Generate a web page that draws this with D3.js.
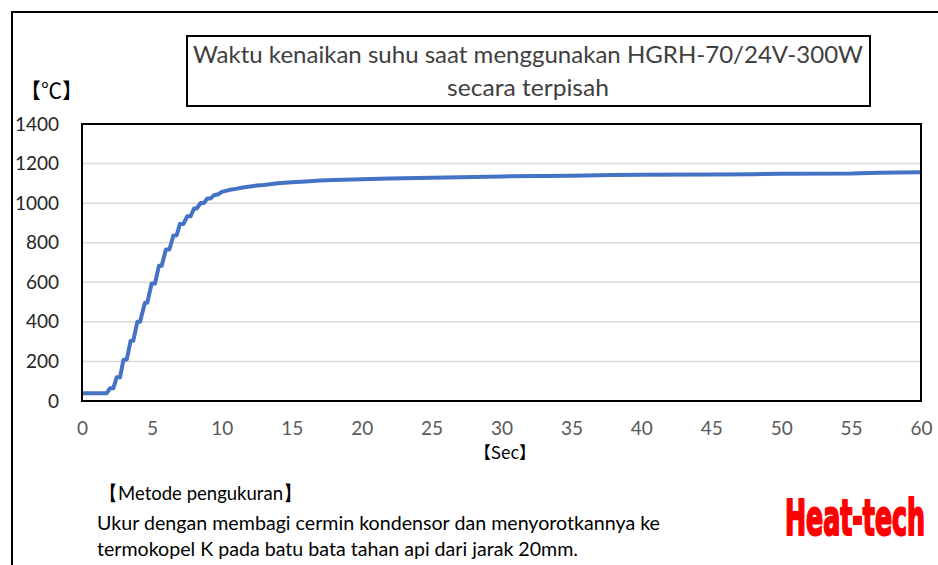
<!DOCTYPE html>
<html>
<head>
<meta charset="utf-8">
<script src="https://cdn.jsdelivr.net/npm/d3@7"></script>
<style>
  body { margin: 0; background: #fff; }
  svg { display: block; }
</style>
</head>
<body>
<svg id="chart" width="938" height="565"></svg>
<script>
// data: time [sec] and temperature [°C]
const timeSec = [0, 1.77, 2.0, 2.24, 2.48, 2.72, 2.96, 3.2, 3.48, 3.67, 3.96, 4.15, 4.5, 4.67, 4.98, 5.22,
  5.5, 5.7, 6.0, 6.25, 6.53, 6.77, 7.0, 7.25, 7.53, 7.77, 8.01, 8.2, 8.49, 8.73, 8.96, 9.2, 9.44, 9.75,
  10, 10.5, 11, 11.5, 12, 12.5, 13, 14, 15, 16, 17, 18, 20, 22, 25, 28, 30, 33, 35, 38, 40, 45, 48, 50, 55, 57, 60];
const tempC = [39, 39, 64, 64, 120, 120, 207, 210, 305, 305, 401, 401, 497, 497, 594, 594,
  683, 683, 766, 766, 835, 838, 894, 894, 934, 934, 973, 973, 1001, 1001, 1024, 1024, 1040, 1045,
  1057, 1066, 1072, 1079, 1084, 1089, 1092, 1100, 1106, 1110, 1114, 1117, 1121, 1124, 1128, 1132, 1135, 1137, 1139, 1142, 1143, 1145, 1146, 1149, 1150, 1154, 1156];
const xTicks = [0, 5, 10, 15, 20, 25, 30, 35, 40, 45, 50, 55, 60];
const yTicks = [0, 200, 400, 600, 800, 1000, 1200, 1400];

const titleLines = ["Waktu kenaikan suhu saat menggunakan HGRH-70/24V-300W", "secara terpisah"];
const noteLines = ["Ukur dengan membagi cermin kondensor dan menyorotkannya ke",
  "termokopel K pada batu bata tahan api dari jarak 20mm."];

const svg = d3.select("#chart");
const font = "Lato, 'Open Sans', sans-serif";
const plot = {left: 82, right: 921, top: 124, bottom: 401};

// outer frame (only top and left edges show)
svg.append("path")
  .attr("d", "M12,565 V12 H938")
  .attr("fill", "none").attr("stroke", "#000").attr("stroke-width", 2);

const x = d3.scaleLinear().domain([0, 60]).range([plot.left, plot.right]);
const y = d3.scaleLinear().domain([0, 1400]).range([plot.bottom, plot.top]);

// gridlines
svg.append("g")
  .selectAll("line")
  .data(yTicks.filter(d => d > 0 && d < 1400))
  .enter().append("line")
  .attr("x1", plot.left).attr("x2", plot.right)
  .attr("y1", d => y(d)).attr("y2", d => y(d))
  .attr("stroke", "#d9d9d9").attr("stroke-width", 1.5);

// axes (labels only)
const yAxis = svg.append("g")
  .attr("transform", "translate(" + (plot.left - 23) + ",0)")
  .call(d3.axisLeft(y).tickValues(yTicks).tickFormat(d3.format("d")).tickSize(0).tickPadding(0));
yAxis.select(".domain").remove();
yAxis.selectAll("text")
  .attr("font-family", font).attr("font-size", 19).attr("fill", "#262626");

const xAxis = svg.append("g")
  .attr("transform", "translate(0," + (plot.bottom + 20) + ")")
  .call(d3.axisBottom(x).tickValues(xTicks).tickSize(0).tickPadding(0));
xAxis.select(".domain").remove();
xAxis.selectAll("text")
  .attr("font-family", font).attr("font-size", 19).attr("fill", "#595959");

// the curve
const line = d3.line()
  .x((d, i) => x(timeSec[i]))
  .y(d => y(d));
svg.append("path")
  .datum(tempC)
  .attr("d", line)
  .attr("fill", "none")
  .attr("stroke", "#4472c4")
  .attr("stroke-width", 4)
  .attr("stroke-linejoin", "round");

// plot frame
svg.append("rect")
  .attr("x", plot.left).attr("y", plot.top)
  .attr("width", plot.right - plot.left).attr("height", plot.bottom - plot.top)
  .attr("fill", "none").attr("stroke", "#000").attr("stroke-width", 2);

// title box
svg.append("rect")
  .attr("x", 187).attr("y", 36).attr("width", 683).attr("height", 70)
  .attr("fill", "#fff").attr("stroke", "#000").attr("stroke-width", 2);
svg.append("text")
  .attr("x", 193).attr("y", 63)
  .attr("font-family", font).attr("font-size", 23).attr("fill", "#404040")
  .attr("textLength", 670).attr("lengthAdjust", "spacingAndGlyphs")
  .text(titleLines[0]);
svg.append("text")
  .attr("x", 447).attr("y", 96)
  .attr("font-family", font).attr("font-size", 23).attr("fill", "#404040")
  .attr("textLength", 162).attr("lengthAdjust", "spacingAndGlyphs")
  .text(titleLines[1]);

// axis titles
svg.append("text")
  .attr("x", 20).attr("y", 98)
  .attr("font-family", "'Noto Sans CJK JP', sans-serif").attr("font-size", 21).attr("fill", "#000")
  .text("【℃】");
svg.append("text")
  .attr("x", 505).attr("y", 459).attr("text-anchor", "middle")
  .attr("font-family", "'Noto Sans CJK JP', sans-serif").attr("font-size", 17).attr("fill", "#000")
  .text("【Sec】");

// method note
svg.append("text")
  .attr("x", 99).attr("y", 500)
  .attr("font-family", font).attr("font-size", 19.5).attr("fill", "#000")
  .attr("textLength", 203).attr("lengthAdjust", "spacingAndGlyphs")
  .text("【Metode pengukuran】");
noteLines.forEach((t, i) => {
  svg.append("text")
    .attr("x", 97).attr("y", 530 + i * 26)
    .attr("font-family", font).attr("font-size", 19.5).attr("fill", "#000")
    .attr("textLength", i === 0 ? 563 : 481).attr("lengthAdjust", "spacingAndGlyphs")
    .text(t);
});

// logo text (squeezed horizontally, anchored at its right edge)
svg.append("text")
  .attr("transform", "translate(925,535) scale(0.62,1)")
  .attr("text-anchor", "end")
  .attr("font-family", "'Liberation Sans Narrow', 'DejaVu Sans Condensed', sans-serif")
  .attr("font-weight", "bold").attr("font-size", 50).attr("fill", "#ff0000")
  .attr("stroke", "#ff0000").attr("stroke-width", 2.2).attr("stroke-linejoin", "round")
  .attr("textLength", 226).attr("lengthAdjust", "spacingAndGlyphs")
  .text("Heat-tech");
</script>
</body>
</html>
